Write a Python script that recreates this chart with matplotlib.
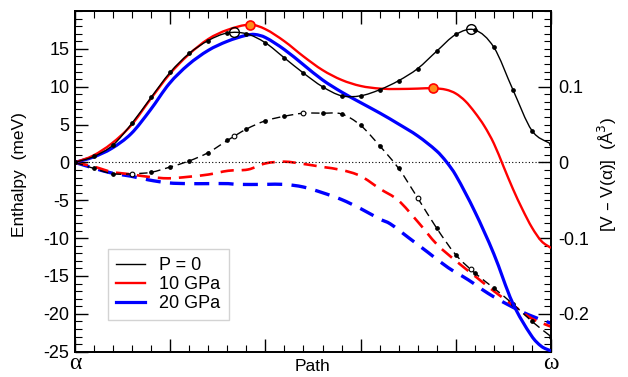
import matplotlib
matplotlib.use("Agg")
import matplotlib.pyplot as plt
from matplotlib.ticker import MultipleLocator
from matplotlib.path import Path
from matplotlib.patches import PathPatch
from matplotlib.lines import Line2D

plt.rcParams['font.family'] = ['Liberation Sans', 'DejaVu Sans']
plt.rcParams['axes.unicode_minus'] = False

# ---------------- data ----------------
# P = 0 enthalpy (meV), points along path (grid of 26 images)
k_path = [i * 0.04 for i in range(26)]
h0 = [0.0, 0.8, 2.3, 5.2, 8.6, 11.9, 14.4, 16.1, 17.1, 17.0, 15.8, 13.8, 11.8,
      10.0, 8.8, 8.8, 9.6, 10.8, 12.4, 14.7, 16.9, 17.5, 15.2, 9.6, 4.2, 2.4]
h0_max_x = [0.335, 0.832]
h0_max_y = [17.2, 17.6]

# 10 GPa enthalpy
x10 = [0.0, 0.038, 0.077, 0.118, 0.158, 0.198, 0.238, 0.280, 0.320, 0.3676, 0.40,
       0.44, 0.48, 0.52, 0.56, 0.60, 0.641, 0.679, 0.72, 0.753, 0.78, 0.80, 0.82,
       0.84, 0.86, 0.88, 0.90, 0.92, 0.94, 0.96, 0.98, 1.0]
h10 = [0.0, 0.9, 2.5, 4.9, 8.3, 11.6, 14.2, 16.3, 17.5, 18.2, 17.6,
       16.0, 14.0, 12.2, 10.9, 10.1, 9.75, 9.7, 9.75, 9.8, 9.6, 9.1, 8.1,
       6.6, 4.8, 2.5, -0.5, -3.5, -6.2, -8.6, -10.4, -11.3]
h10_pts_x = [0.3676, 0.753]
h10_pts_y = [18.2, 9.8]

# 20 GPa enthalpy
x20 = [0.0, 0.038, 0.077, 0.118, 0.158, 0.198, 0.238, 0.280, 0.320, 0.36, 0.378,
       0.40, 0.44, 0.48, 0.52, 0.56, 0.60, 0.641, 0.679, 0.72, 0.76, 0.78, 0.80,
       0.84, 0.88, 0.919, 0.959, 0.98, 1.0]
h20 = [0.0, 0.7, 1.85, 3.8, 6.9, 10.4, 12.9, 14.8, 16.0, 16.8, 16.9,
       16.5, 14.9, 12.9, 10.9, 9.3, 7.9, 6.5, 5.1, 3.5, 1.5, 0.1, -1.7,
       -6.5, -12.1, -18.5, -22.9, -24.3, -24.9]

# volume differences (Å^3), right axis
v0 = [0.0, -0.008, -0.015, -0.015, -0.013, -0.006, 0.002, 0.013, 0.029, 0.044,
      0.055, 0.061, 0.065, 0.065, 0.064, 0.049, 0.022, -0.008, -0.047, -0.087,
      -0.122, -0.146, -0.166, -0.187, -0.210, -0.230]
v0_open_x = [0.12, 0.335, 0.48, 0.72, 0.832]
v0_open_y = [-0.015, 0.035, 0.065, -0.047, -0.141]

xv10 = [0.0, 0.042, 0.077, 0.116, 0.154, 0.196, 0.238, 0.280, 0.322, 0.364, 0.40,
        0.44, 0.48, 0.52, 0.56, 0.60, 0.641, 0.679, 0.721, 0.760, 0.800, 0.840,
        0.880, 0.919, 0.959, 1.0]
v10 = [0.0, -0.006, -0.0125, -0.0156, -0.019, -0.021, -0.019, -0.016, -0.011,
       -0.0093, -0.0013, 0.001, -0.002, -0.006, -0.010, -0.018, -0.035, -0.050,
       -0.079, -0.108, -0.130, -0.150, -0.170, -0.188, -0.206, -0.217]

xv20 = [0.0, 0.042, 0.077, 0.116, 0.154, 0.196, 0.238, 0.280, 0.322, 0.34, 0.40,
        0.44, 0.48, 0.52, 0.56, 0.60, 0.641, 0.662, 0.700, 0.742, 0.784, 0.826,
        0.868, 0.910, 0.952, 1.0]
v20 = [0.0, -0.008, -0.014, -0.018, -0.023, -0.027, -0.028, -0.028, -0.028,
       -0.029, -0.029, -0.029, -0.0325, -0.040, -0.049, -0.061, -0.075, -0.081,
       -0.099, -0.119, -0.139, -0.155, -0.173, -0.188, -0.201, -0.2125]

legend_labels = ['P = 0', '10 GPa', '20 GPa']


def smooth_curve(axis, xs, ys, **kw):
    """Draw a smooth cubic (Hermite/Bezier) curve through the given points."""
    n = len(xs)
    m = []
    for i in range(n):
        if i == 0:
            m.append((ys[1] - ys[0]) / (xs[1] - xs[0]))
        elif i == n - 1:
            m.append((ys[-1] - ys[-2]) / (xs[-1] - xs[-2]))
        else:
            m.append((ys[i + 1] - ys[i - 1]) / (xs[i + 1] - xs[i - 1]))
    verts = [(xs[0], ys[0])]
    codes = [Path.MOVETO]
    for i in range(n - 1):
        h = xs[i + 1] - xs[i]
        verts += [(xs[i] + h / 3, ys[i] + m[i] * h / 3),
                  (xs[i + 1] - h / 3, ys[i + 1] - m[i + 1] * h / 3),
                  (xs[i + 1], ys[i + 1])]
        codes += [Path.CURVE4] * 3
    patch = PathPatch(Path(verts, codes), facecolor='none', **kw)
    axis.add_patch(patch)
    return patch


# ---------------- figure ----------------
fig = plt.figure(figsize=(6.28, 3.77), dpi=100)
ax = fig.add_axes([0.1194, 0.0671, 0.7580, 0.9037])
ax2 = ax.twinx()

ax.set_xlim(0, 1)
ax.set_ylim(-25, 20)
ax2.set_ylim(-0.25, 0.20)

# zero reference
ax.axhline(0, color='black', lw=0.8, ls=(0, (1, 2)), zorder=1)

# dashed volume curves (right axis)
smooth_curve(ax2, xv20, v20, edgecolor='#0000ff', lw=2.4,
             linestyle=(0, (4.5, 2.8)), zorder=2)
smooth_curve(ax2, xv10, v10, edgecolor='#ff0000', lw=1.9,
             linestyle=(0, (5, 3)), zorder=3)
smooth_curve(ax2, k_path, v0, edgecolor='black', lw=1.0,
             linestyle=(0, (6, 3.5)), zorder=4)
ax2.plot(k_path, v0, ls='none', marker='o', ms=2.4, mfc='black',
         mec='black', zorder=5)
ax2.plot(v0_open_x, v0_open_y, ls='none', marker='o', ms=3.4, mfc='white',
         mec='black', mew=0.8, zorder=6)

# solid enthalpy curves (left axis)
smooth_curve(ax, x20, h20, edgecolor='#0000ff', lw=2.3, zorder=3)
smooth_curve(ax, x10, h10, edgecolor='#ff0000', lw=1.7, zorder=4)
smooth_curve(ax, k_path, h0, edgecolor='black', lw=1.0, zorder=5)
ax.plot(k_path, h0, ls='none', marker='o', ms=2.4, mfc='black',
        mec='black', zorder=5)
ax.plot(h0_max_x, h0_max_y, ls='none', marker='o', ms=7, mfc='none',
        mec='black', mew=1.0, zorder=6)
ax.plot(h10_pts_x, h10_pts_y, ls='none', marker='o', ms=6.5, mfc='#ff8c1a',
        mec='#ff0000', mew=1.2, zorder=6)

ax.set_zorder(ax2.get_zorder() + 1)
ax.patch.set_visible(False)

# ticks
ax.xaxis.set_major_locator(MultipleLocator(0.2))
ax.xaxis.set_minor_locator(MultipleLocator(0.04))
ax.yaxis.set_minor_locator(MultipleLocator(1))
ax2.yaxis.set_minor_locator(MultipleLocator(0.01))

ax.tick_params(axis='both', which='both', direction='in')
ax.tick_params(axis='x', which='both', top=True, labelbottom=False)
ax.tick_params(axis='y', which='both', left=True, right=False)
ax.tick_params(which='major', length=9.5, width=1.0, labelsize=13, pad=4)
ax.tick_params(which='minor', length=5, width=0.8)
ax2.tick_params(axis='y', which='both', direction='in')
ax2.tick_params(which='major', length=9.5, width=1.0, labelsize=13, pad=5)
ax2.tick_params(which='minor', length=5, width=0.8)

ax.set_yticks([-25, -20, -15, -10, -5, 0, 5, 10, 15])
ax.set_yticklabels(['-25', '-20', '-15', '-10', '-5', '0', '5', '10', '15'])
ax2.set_yticks([-0.2, -0.1, 0, 0.1])
ax2.set_yticklabels(['-0.2', '-0.1', '0', '0.1'])

for a in (ax, ax2):
    for s in a.spines.values():
        s.set_linewidth(1.3)

ax.text(0.0, -0.034, 'α', transform=ax.transAxes, ha='center', va='center',
        fontsize=17, family=['Liberation Serif', 'DejaVu Serif'])
ax.text(1.0, -0.034, 'ω', transform=ax.transAxes, ha='center', va='center',
        fontsize=17, family=['Liberation Serif', 'DejaVu Serif'])
ax.text(0.5, -0.042, 'Path', transform=ax.transAxes, ha='center', va='center',
        fontsize=12.5)

fig.text(20 / 628, 1 - 175 / 377, 'Enthalpy  (meV)', rotation=90,
         ha='center', va='center', fontsize=12.5)
fig.text(607 / 628, 1 - 175 / 377, '[V – V(α)]  (Å$^3$)', rotation=90,
         ha='center', va='center', fontsize=12.5)

handles = [Line2D([], [], color='black', lw=1.0),
           Line2D([], [], color='#ff0000', lw=1.7),
           Line2D([], [], color='#0000ff', lw=2.3)]
leg = ax.legend(handles, legend_labels,
                loc='lower left', bbox_to_anchor=(0.069, 0.093),
                fontsize=13, frameon=True, fancybox=False, handlelength=1.6,
                handletextpad=0.8, labelspacing=0.1, borderpad=0.45,
                borderaxespad=0)
leg.get_frame().set_edgecolor('#c8c8c8')
leg.get_frame().set_linewidth(1.0)

fig.savefig('out.png', dpi=100)
